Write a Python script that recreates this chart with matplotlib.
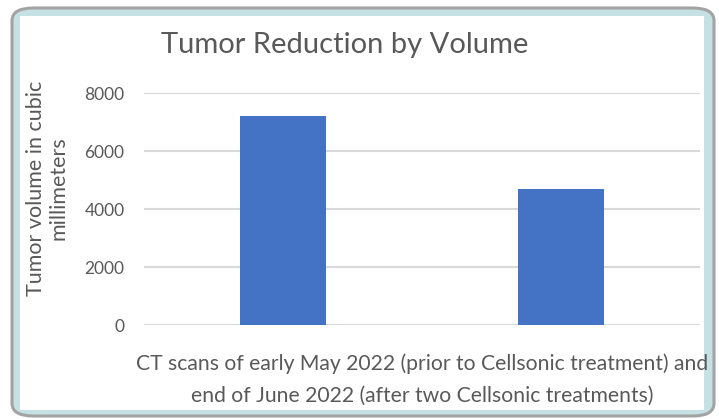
import matplotlib.pyplot as plt
from matplotlib.patches import FancyBboxPatch, Rectangle

categories = ['before', 'after']
volumes = [7200, 4700]
yticks = [0, 2000, 4000, 6000, 8000]

W, H = 719, 419
fig = plt.figure(figsize=(W / 100, H / 100), dpi=100)
fig.patch.set_facecolor('white')

# outer frame (gray rounded border, teal band, white inside)
frame = FancyBboxPatch((12 / W, 1 - 416 / H), 702 / W, 408 / H,
                       boxstyle='round,pad=0,rounding_size=0.03',
                       transform=fig.transFigure, facecolor='#c6e1e4',
                       edgecolor='#a3a3a3', linewidth=2.2, zorder=0)
fig.patches.append(frame)
inner = Rectangle((20 / W, 1 - 410 / H), 684 / W, 394 / H,
                  transform=fig.transFigure, facecolor='white',
                  edgecolor='none', zorder=0.5)
fig.patches.append(inner)

ax = fig.add_axes([144 / W, 1 - 325 / H, 556 / W, 232 / H], zorder=2)
ax.set_facecolor('none')
ax.bar(range(len(categories)), volumes, width=0.31, color='#4472c4', zorder=3)
ax.set_xlim(-0.5, 1.5)
ax.set_ylim(0, 8000)
ax.set_yticks(yticks)
ax.set_yticklabels([str(v) for v in yticks], fontsize=12.5, color='#595959',
                   family='Lato')
ax.set_xticks([])
ax.tick_params(axis='y', length=0, pad=14)
for s in ax.spines.values():
    s.set_visible(False)
ax.yaxis.grid(color='#d9d9d9', linewidth=1.5)
ax.set_axisbelow(True)

fig.text(345 / W, 1 - 45 / H, 'Tumor Reduction by Volume', ha='center',
         va='center', fontsize=21, color='#595959', family='Lato', zorder=3)
fig.text(47 / W, 1 - 188 / H, 'Tumor volume in cubic\nmillimeters', ha='center',
         va='center', rotation=90, fontsize=15.5, color='#595959',
         family='Lato', linespacing=1.15, zorder=3)
fig.text(422 / W, 1 - 380 / H,
         'CT scans of early May 2022 (prior to Cellsonic treatment) and\n'
         'end of June 2022 (after two Cellsonic treatments)',
         ha='center', va='center', fontsize=15.2, color='#595959',
         family='Lato', linespacing=1.75, zorder=3)

fig.savefig('out.png', dpi=100)
